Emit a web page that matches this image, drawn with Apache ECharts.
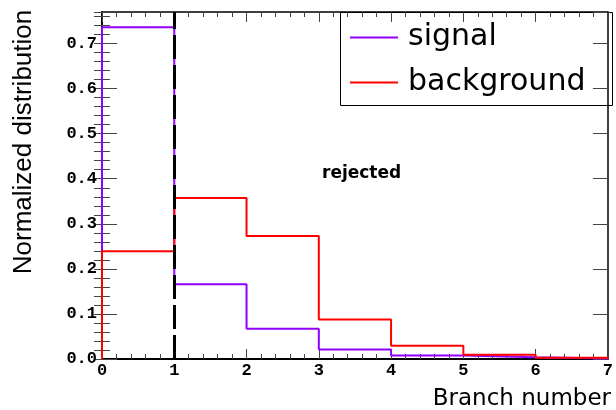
<!DOCTYPE html>
<html>
<head>
<meta charset="utf-8">
<script src="https://cdn.jsdelivr.net/npm/echarts@6/dist/echarts.min.js"></script>
<style>
html,body{margin:0;padding:0;background:#fff;}
#chart{width:616px;height:410px;}
</style>
</head>
<body>
<div id="chart"></div>
<script>
// ---- data ----
const binEdges = [0, 1, 2, 3, 4, 5, 6, 7];
const signal = [0.736, 0.166, 0.067, 0.021, 0.008, 0.004, 0.0013];
const background = [0.239, 0.357, 0.273, 0.0875, 0.0296, 0.0096, 0.003];
const xTicks = ['0', '1', '2', '3', '4', '5', '6', '7'];
const cutValue = 1;
const yMax = 0.77;

function histPoints(vals) {
  const pts = [[binEdges[0], 0]];
  for (let i = 0; i < vals.length; i++) pts.push([binEdges[i], vals[i]]);
  pts.push([binEdges[binEdges.length - 1], vals[vals.length - 1]]);
  pts.push([binEdges[binEdges.length - 1], 0]);
  return pts;
}

const chart = echarts.init(document.getElementById('chart'), null, {renderer: 'canvas'});
const tickColor = '#444';
const monoLabel = {fontFamily: 'Liberation Mono', fontWeight: 'bold', fontSize: 17, color: '#000'};

const option = {
  animation: false,
  backgroundColor: '#fff',
  grid: {left: 102, right: 4, top: 12, bottom: 51, containLabel: false},
  xAxis: [
    {
      type: 'value', position: 'bottom', min: 0, max: 7, interval: 1,
      axisLine: {show: true, onZero: false, lineStyle: {color: '#000', width: 2}},
      axisTick: {show: true, inside: true, length: 10, lineStyle: {color: tickColor, width: 1}},
      minorTick: {show: true, splitNumber: 5, length: 5, lineStyle: {color: tickColor, width: 1}},
      axisLabel: Object.assign({margin: 3, formatter: v => xTicks[v] !== undefined ? xTicks[v] : ''}, monoLabel),
      splitLine: {show: false}
    },
    {
      type: 'value', position: 'top', min: 0, max: 7, interval: 1,
      axisLine: {show: true, onZero: false, lineStyle: {color: '#000', width: 1.5}},
      axisTick: {show: true, inside: true, length: 10, lineStyle: {color: tickColor, width: 1}},
      minorTick: {show: true, splitNumber: 5, length: 5, lineStyle: {color: tickColor, width: 1}},
      axisLabel: {show: false},
      splitLine: {show: false}
    }
  ],
  yAxis: [
    {
      type: 'value', position: 'left', min: 0, max: yMax, interval: 0.1,
      axisLine: {show: true, onZero: false, lineStyle: {color: '#000', width: 2}},
      axisTick: {show: true, inside: true, length: 15, lineStyle: {color: tickColor, width: 1}},
      axisLabel: Object.assign({margin: 5, showMaxLabel: false, formatter: v => v.toFixed(1)}, monoLabel),
      splitLine: {show: false}
    },
    {
      type: 'value', position: 'left', min: 0, max: yMax, interval: 0.02,
      axisLine: {show: false},
      axisTick: {show: true, inside: true, length: 8, lineStyle: {color: tickColor, width: 1}},
      axisLabel: {show: false},
      splitLine: {show: false}
    },
    {
      type: 'value', position: 'right', min: 0, max: yMax, interval: 0.1,
      axisLine: {show: true, onZero: false, lineStyle: {color: '#000', width: 1.5}},
      axisTick: {show: true, inside: true, length: 15, lineStyle: {color: tickColor, width: 1}},
      axisLabel: {show: false},
      splitLine: {show: false}
    },
    {
      type: 'value', position: 'right', min: 0, max: yMax, interval: 0.02,
      axisLine: {show: false},
      axisTick: {show: true, inside: true, length: 8, lineStyle: {color: tickColor, width: 1}},
      axisLabel: {show: false},
      splitLine: {show: false}
    }
  ],
  legend: {
    show: true,
    orient: 'vertical',
    left: 350, top: 21,
    icon: 'rect',
    itemWidth: 48, itemHeight: 2, itemGap: 12,
    padding: 0,
    data: ['signal', 'background'],
    textStyle: {fontFamily: 'DejaVu Sans', fontSize: 30, color: '#000', lineHeight: 33, padding: [0, 0, 0, 5]}
  },
  graphic: [
    {type: 'rect', left: 340, top: 12, shape: {width: 272, height: 93}, style: {fill: '#fff', stroke: '#000', lineWidth: 1}, z: 0, zlevel: 0},
    {type: 'text', left: 322, top: 165, style: {text: 'rejected', font: 'bold 17px "DejaVu Sans"', fill: '#000'}},
    {type: 'text', x: 24, y: 142, rotation: Math.PI / 2, style: {text: 'Normalized distribution', font: '26px "Liberation Sans"', fill: '#000', align: 'center', verticalAlign: 'middle'}},
    {type: 'text', right: 5, top: 388, style: {text: 'Branch number', font: '23px "DejaVu Sans"', fill: '#000'}}
  ],
  series: [
    {
      name: 'signal', type: 'line', step: 'end', xAxisIndex: 0, yAxisIndex: 0,
      symbol: 'none', showSymbol: false, color: '#9100ff',
      lineStyle: {color: '#9100ff', width: 2},
      data: histPoints(signal), z: 3
    },
    {
      name: 'background', type: 'line', step: 'end', xAxisIndex: 0, yAxisIndex: 0,
      symbol: 'none', showSymbol: false, color: '#ff0000',
      lineStyle: {color: '#ff0000', width: 2},
      data: histPoints(background), z: 4,
      markLine: {
        silent: true, symbol: 'none', label: {show: false},
        lineStyle: {color: '#000', width: 3, type: [24, 6]},
        data: [{xAxis: cutValue}]
      }
    }
  ]
};
chart.setOption(option);
</script>
</body>
</html>
